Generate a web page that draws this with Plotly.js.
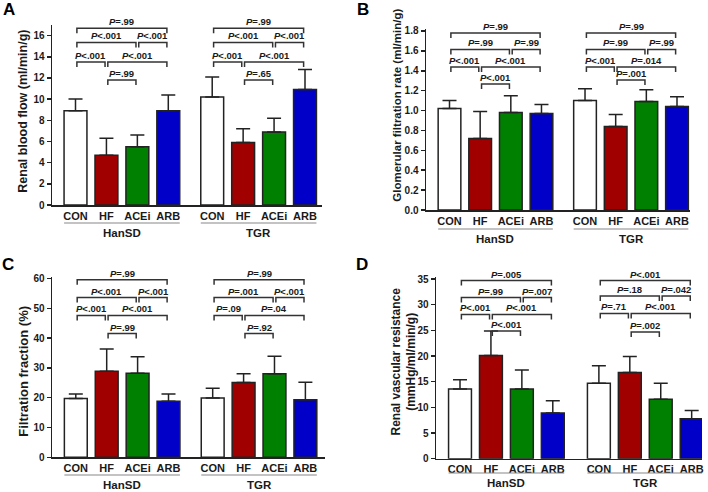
<!DOCTYPE html>
<html>
<head>
<meta charset="utf-8">
<script src="https://cdn.plot.ly/plotly-3.0.1.min.js"></script>
<style>
  html, body { margin: 0; padding: 0; background: #fff; }
  #chart { width: 708px; height: 492px; }
</style>
</head>
<body>
<div id="chart"></div>
<script>
const groups = ['HanSD', 'TGR'];
const treatments = ['CON', 'HF', 'ACEi', 'ARB'];
const barColors = ['#ffffff', '#a00000', '#008000', '#0000c8'];

// HanSD CON, HF, ACEi, ARB then TGR CON, HF, ACEi, ARB
const rbfMean = [8.9, 4.7, 5.5, 8.9, 10.2, 5.9, 6.9, 10.9];
const rbfSd = [1.1, 1.6, 1.1, 1.5, 1.9, 1.3, 1.3, 1.9];
const gfrMean = [1.02, 0.72, 0.98, 0.97, 1.10, 0.84, 1.09, 1.04];
const gfrSd = [0.08, 0.27, 0.17, 0.09, 0.12, 0.12, 0.12, 0.10];
const ffMean = [19.7, 28.9, 28.2, 18.8, 19.9, 25.1, 28.0, 19.3];
const ffSd = [1.5, 7.4, 5.5, 2.4, 3.3, 2.9, 5.9, 5.9];
const rvrMean = [13.6, 20.1, 13.6, 8.9, 14.7, 16.8, 11.6, 7.8];
const rvrSd = [1.8, 4.8, 3.7, 2.4, 3.4, 3.1, 3.1, 1.6];

// comparisons (indexes into treatments) and the bracket row each one sits on
const pairs = [[0, 3], [0, 2], [2, 3], [0, 1], [1, 3], [1, 2]];
const pairRow = [0, 1, 1, 2, 2, 3];

// P values per group, same order as pairs
const rbfP = [['=.99', '<.001', '<.001', '<.001', '<.001', '=.99'],
              ['=.99', '<.001', '<.001', '<.001', '<.001', '=.65']];
const gfrP = [['=.99', '=.99', '=.99', '<.001', '<.001', '<.001'],
              ['=.99', '=.99', '=.99', '<.001', '=.014', '=.001']];
const ffP = [['=.99', '<.001', '<.001', '<.001', '<.001', '=.99'],
             ['=.99', '=.001', '<.001', '=.09', '=.04', '=.92']];
const rvrP = [['=.005', '=.99', '=.007', '<.001', '<.001', '<.001'],
              ['<.001', '=.18', '=.042', '=.71', '<.001', '=.002']];

// bracket heights (axis units) for rows 0..3
const rbfRows = [[16.7, 15.35, 13.5, 11.8], [16.7, 15.35, 13.5, 11.8]];
const gfrRows = [[1.78, 1.615, 1.437, 1.266], [1.78, 1.615, 1.437, 1.307]];
const ffRows = [[59.6, 53.6, 47.6, 41.5], [59.6, 53.6, 47.6, 41.5]];
const rvrRows = [[34.7, 31.4, 28.1, 24.9], [34.7, 31.7, 28.3, 24.7]];

const FONT = '"Liberation Sans", Arial, sans-serif';
const INK = '#1a1a1a';
const W = 708, H = 492;
const fx = px => px / W;
const fy = py => 1 - py / H;

// box = pixel edges of each plot area, c0 = pixel centre of the first bar
const panels = [
  {letter: 'A', mean: rbfMean, sd: rbfSd, p: rbfP, rows: rbfRows,
   title: 'Renal blood flow (ml/min/g)', titleSize: 12.5, titleX: 22.7, titleY: 111,
   yMax: 17, dtick: 2, fmt: 'd', box: {l: 52, r: 322, t: 25, b: 205}, c0: 75.5, unit: 30.93, gap: 1.42,
   letterX: 9, letterY: 9, lineY: 223, groupY: 233},
  {letter: 'B', mean: gfrMean, sd: gfrSd, p: gfrP, rows: gfrRows,
   title: 'Glomerular filtration rate (ml/min/g)', titleSize: 11.5, titleX: 396.7, titleY: 105,
   yMax: 1.82, dtick: 0.2, fmt: '.1f', box: {l: 426, r: 690, t: 29, b: 210}, c0: 449.5, unit: 30.66, gap: 1.42,
   letterX: 362.5, letterY: 9, lineY: 229, groupY: 239},
  {letter: 'C', mean: ffMean, sd: ffSd, p: ffP, rows: ffRows,
   title: 'Filtration fraction (%)', titleSize: 13, titleX: 22.7, titleY: 371,
   yMax: 60.5, dtick: 10, fmt: 'd', box: {l: 52, r: 325, t: 277, b: 457.3}, c0: 75.8, unit: 30.9, gap: 1.43,
   letterX: 7.5, letterY: 264, lineY: 475, groupY: 485},
  {letter: 'D', mean: rvrMean, sd: rvrSd, p: rvrP, rows: rvrRows,
   title: 'Renal vascular resistance<br>(mmHg/ml/min/g)', titleSize: 12, titleX: 403.5, titleY: 362,
   yMax: 35.4, dtick: 5, fmt: 'd', box: {l: 436, r: 702, t: 277, b: 458.7}, c0: 460, unit: 30.93, gap: 1.49,
   letterX: 362, letterY: 264.5, lineY: 473, groupY: 483}
];

const data = [];
const layout = {
  width: W, height: H,
  margin: {l: 0, r: 0, t: 0, b: 0},
  paper_bgcolor: '#fff', plot_bgcolor: 'rgba(0,0,0,0)',
  showlegend: false,
  font: {family: FONT, color: INK},
  shapes: [], annotations: []
};

const barWidth = 0.74;
const inset = 0.045;

panels.forEach((pn, n) => {
  const sfx = n === 0 ? '' : String(n + 1);
  const xa = 'x' + sfx, ya = 'y' + sfx;
  const b = pn.box;
  const xpos = pn.mean.map((_, i) => (i % 4) + Math.floor(i / 4) * (3 + pn.gap));

  data.push({
    type: 'bar', xaxis: xa, yaxis: ya,
    x: xpos, y: pn.mean, width: barWidth,
    marker: {color: pn.mean.map((_, i) => barColors[i % 4]), line: {color: '#222', width: 1.5}},
    error_y: {type: 'data', symmetric: false, array: pn.sd, arrayminus: pn.sd.map(() => 0),
              color: '#222', thickness: 1.5, width: 7},
    hoverinfo: 'skip'
  });

  layout['xaxis' + sfx] = {
    domain: [fx(b.l), fx(b.r)], anchor: ya,
    range: [(b.l - pn.c0) / pn.unit, (b.r - pn.c0) / pn.unit],
    showline: true, linewidth: 1.5, linecolor: '#222',
    ticks: '', showgrid: false, zeroline: false,
    tickmode: 'array', tickvals: xpos, ticktext: xpos.map((_, i) => treatments[i % 4]),
    tickfont: {family: FONT, size: 11, weight: 'bold', color: INK}
  };
  layout['yaxis' + sfx] = {
    domain: [fy(b.b), fy(b.t)], anchor: xa,
    range: [0, pn.yMax], dtick: pn.dtick, tick0: 0, tickformat: pn.fmt,
    showline: true, linewidth: 1.5, linecolor: '#222',
    ticks: 'outside', ticklen: 4, tickwidth: 1.5, tickcolor: '#222',
    showgrid: false, zeroline: false,
    tickfont: {family: FONT, size: 10, weight: 'bold', color: INK}
  };

  // significance brackets
  const tick = 5 * pn.yMax / (b.b - b.t);
  groups.forEach((grp, g) => {
    pairs.forEach(([a, c], j) => {
      const x1 = xpos[g * 4 + a] + inset;
      const x2 = xpos[g * 4 + c] - inset;
      const y = pn.rows[g][pairRow[j]];
      layout.shapes.push({
        type: 'path', xref: xa, yref: ya,
        path: `M${x1},${y - tick} L${x1},${y} L${x2},${y} L${x2},${y - tick}`,
        line: {color: '#333', width: 1.5}
      });
      layout.annotations.push({
        xref: xa, yref: ya, x: (x1 + x2) / 2, y: y,
        xanchor: 'center', yanchor: 'bottom', yshift: -1, showarrow: false,
        text: '<i>P</i>' + pn.p[g][j].replace('<', '&lt;'),
        font: {family: FONT, size: 9.5, weight: 'bold', color: INK}
      });
    });

    // group underline and name
    const left = xpos[g * 4] - barWidth / 2;
    const right = xpos[g * 4 + 3] + barWidth / 2;
    layout.shapes.push({
      type: 'line', xref: xa, yref: 'paper',
      x0: left, x1: right, y0: fy(pn.lineY), y1: fy(pn.lineY),
      line: {color: '#888', width: 1.2}
    });
    layout.annotations.push({
      xref: xa, yref: 'paper', x: (left + right) / 2, y: fy(pn.groupY),
      xanchor: 'center', yanchor: 'middle', showarrow: false, text: grp,
      font: {family: FONT, size: 11.5, weight: 'bold', color: INK}
    });
  });

  // y title
  layout.annotations.push({
    xref: 'paper', yref: 'paper', x: fx(pn.titleX), y: fy(pn.titleY),
    xanchor: 'center', yanchor: 'middle', textangle: -90, showarrow: false,
    text: pn.title,
    font: {family: FONT, size: pn.titleSize, weight: 'bold', color: INK}
  });

  // panel letter
  layout.annotations.push({
    xref: 'paper', yref: 'paper', x: fx(pn.letterX), y: fy(pn.letterY),
    xanchor: 'center', yanchor: 'middle', showarrow: false,
    text: pn.letter,
    font: {family: FONT, size: 17, weight: 'bold', color: '#000'}
  });
});

Plotly.newPlot('chart', data, layout, {staticPlot: true, displayModeBar: false});
</script>
</body>
</html>
